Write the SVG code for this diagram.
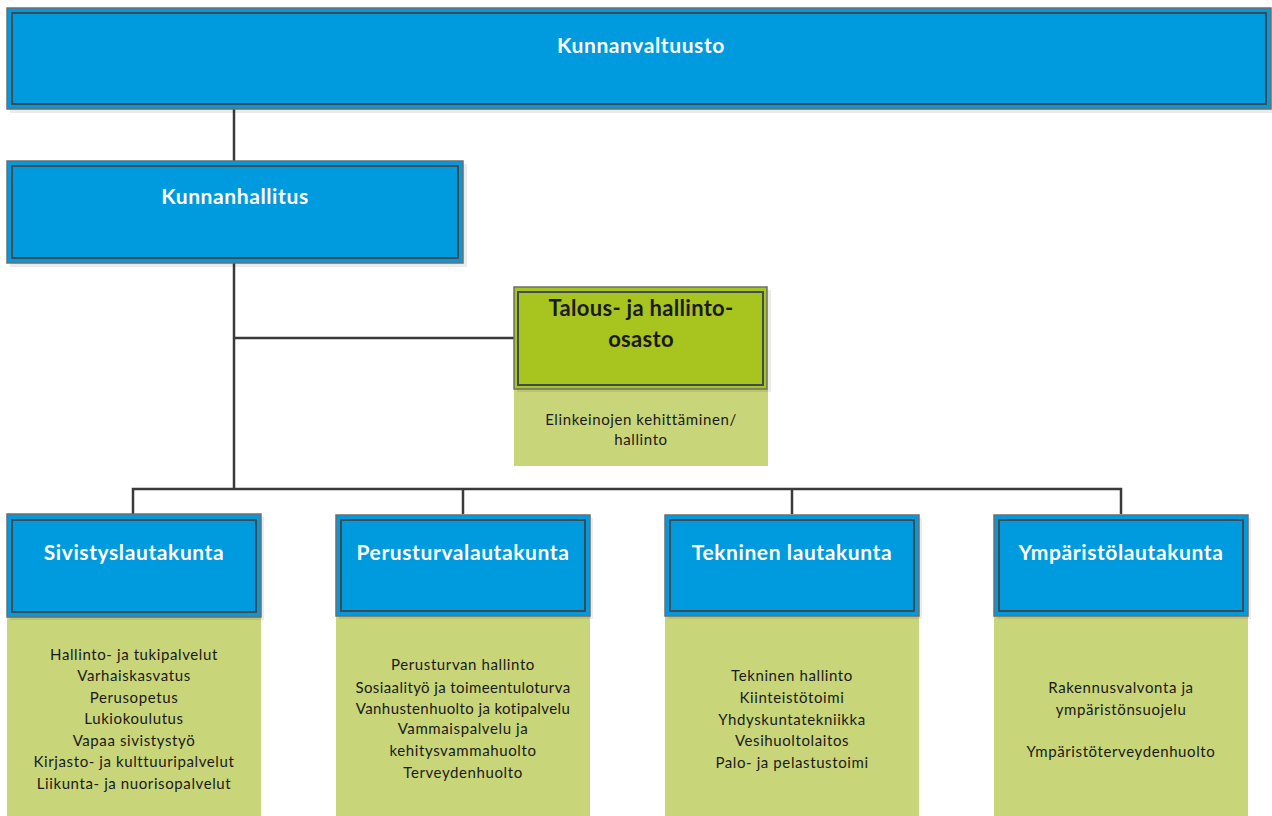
<svg xmlns="http://www.w3.org/2000/svg" width="1272" height="816" viewBox="0 0 1272 816">
<style>
.sh{fill:#000;opacity:0.08}
.blue{fill:#009ADE;stroke:#6E6E6E;stroke-width:1.5}
.inner{fill:none;stroke:#3F4A52;stroke-width:2}
.olive{fill:#A8C41E;stroke:#6E6E6E;stroke-width:1.5}
.lg{fill:#C9D579}
.ht{font-family:Lato,"Liberation Sans",sans-serif;font-weight:bold;font-size:21px;letter-spacing:0.6px;fill:#fff;text-anchor:middle}
.tt{font-family:Lato,"Liberation Sans",sans-serif;font-weight:bold;font-size:22px;letter-spacing:0.3px;fill:#1a1a1a;text-anchor:middle}
.st{font-family:Lato,"Liberation Sans",sans-serif;font-size:15px;letter-spacing:0.6px;fill:#1a1a1a;text-anchor:middle}
.conn{fill:none;stroke:#3A3A3A;stroke-width:2.5}
</style>
<g id="connectors">
<path class="conn" d="M234 109V161"/>
<path class="conn" d="M234 263V489"/>
<path class="conn" d="M234 338H514"/>
<path class="conn" d="M133 514V489H1121V514"/>
<path class="conn" d="M463 489V514"/>
<path class="conn" d="M792 489V514"/>
</g>
<g id="kunnanvaltuusto">
<rect class="sh" x="10" y="11" width="1264" height="102"/>
<rect class="blue" x="7" y="8" width="1264" height="101"/>
<rect class="inner" x="12" y="13" width="1254" height="91"/>
<text class="ht" x="641" y="53">Kunnanvaltuusto</text>
</g>
<g id="kunnanhallitus">
<rect class="sh" x="10" y="164" width="457" height="103"/>
<rect class="blue" x="7" y="161" width="456" height="102"/>
<rect class="inner" x="12" y="166" width="446" height="92"/>
<text class="ht" x="235" y="204">Kunnanhallitus</text>
</g>
<g id="talous">
<rect class="lg" x="514" y="389" width="254" height="77"/>
<rect class="sh" x="517" y="290" width="254" height="102"/>
<rect class="olive" x="514" y="287" width="253" height="102"/>
<rect class="inner" x="518" y="292" width="245" height="93"/>
<text class="tt" x="641" y="316">Talous- ja hallinto-</text>
<text class="tt" x="641" y="347">osasto</text>
<text class="st" x="641" y="425">Elinkeinojen kehittäminen/</text>
<text class="st" x="641" y="445">hallinto</text>
</g>
<g id="sivistyslautakunta">
<rect class="lg" x="7" y="617" width="254" height="199"/>
<rect class="sh" x="10" y="517" width="254" height="103"/>
<rect class="blue" x="7" y="514" width="254" height="103"/>
<rect class="inner" x="12" y="520" width="244" height="92"/>
<text class="ht" x="134" y="560">Sivistyslautakunta</text>
<text class="st" x="134" y="660">Hallinto- ja tukipalvelut</text>
<text class="st" x="134" y="681">Varhaiskasvatus</text>
<text class="st" x="134" y="703">Perusopetus</text>
<text class="st" x="134" y="724">Lukiokoulutus</text>
<text class="st" x="134" y="746">Vapaa sivistystyö</text>
<text class="st" x="134" y="767">Kirjasto- ja kulttuuripalvelut</text>
<text class="st" x="134" y="789">Liikunta- ja nuorisopalvelut</text>
</g>
<g id="perusturvalautakunta">
<rect class="lg" x="336" y="616" width="254" height="200"/>
<rect class="sh" x="339" y="518" width="254" height="101"/>
<rect class="blue" x="336" y="515" width="254" height="101"/>
<rect class="inner" x="341" y="520" width="244" height="91"/>
<text class="ht" x="463" y="560">Perusturvalautakunta</text>
<text class="st" x="463" y="670">Perusturvan hallinto</text>
<text class="st" x="463" y="693" style="letter-spacing:0.4px">Sosiaalityö ja toimeentuloturva</text>
<text class="st" x="463" y="714" style="letter-spacing:0.4px">Vanhustenhuolto ja kotipalvelu</text>
<text class="st" x="463" y="734">Vammaispalvelu ja</text>
<text class="st" x="463" y="756">kehitysvammahuolto</text>
<text class="st" x="463" y="778">Terveydenhuolto</text>
</g>
<g id="tekninen">
<rect class="lg" x="665" y="616" width="254" height="200"/>
<rect class="sh" x="668" y="518" width="254" height="101"/>
<rect class="blue" x="665" y="515" width="254" height="101"/>
<rect class="inner" x="670" y="520" width="244" height="91"/>
<text class="ht" x="792" y="560">Tekninen lautakunta</text>
<text class="st" x="792" y="681">Tekninen hallinto</text>
<text class="st" x="792" y="703">Kiinteistötoimi</text>
<text class="st" x="792" y="725">Yhdyskuntatekniikka</text>
<text class="st" x="792" y="746">Vesihuoltolaitos</text>
<text class="st" x="792" y="768">Palo- ja pelastustoimi</text>
</g>
<g id="ymparisto">
<rect class="lg" x="994" y="616" width="254" height="200"/>
<rect class="sh" x="997" y="518" width="254" height="101"/>
<rect class="blue" x="994" y="515" width="254" height="101"/>
<rect class="inner" x="999" y="520" width="244" height="91"/>
<text class="ht" x="1121" y="560">Ympäristölautakunta</text>
<text class="st" x="1121" y="693">Rakennusvalvonta ja</text>
<text class="st" x="1121" y="715">ympäristönsuojelu</text>
<text class="st" x="1121" y="757">Ympäristöterveydenhuolto</text>
</g>
</svg>
